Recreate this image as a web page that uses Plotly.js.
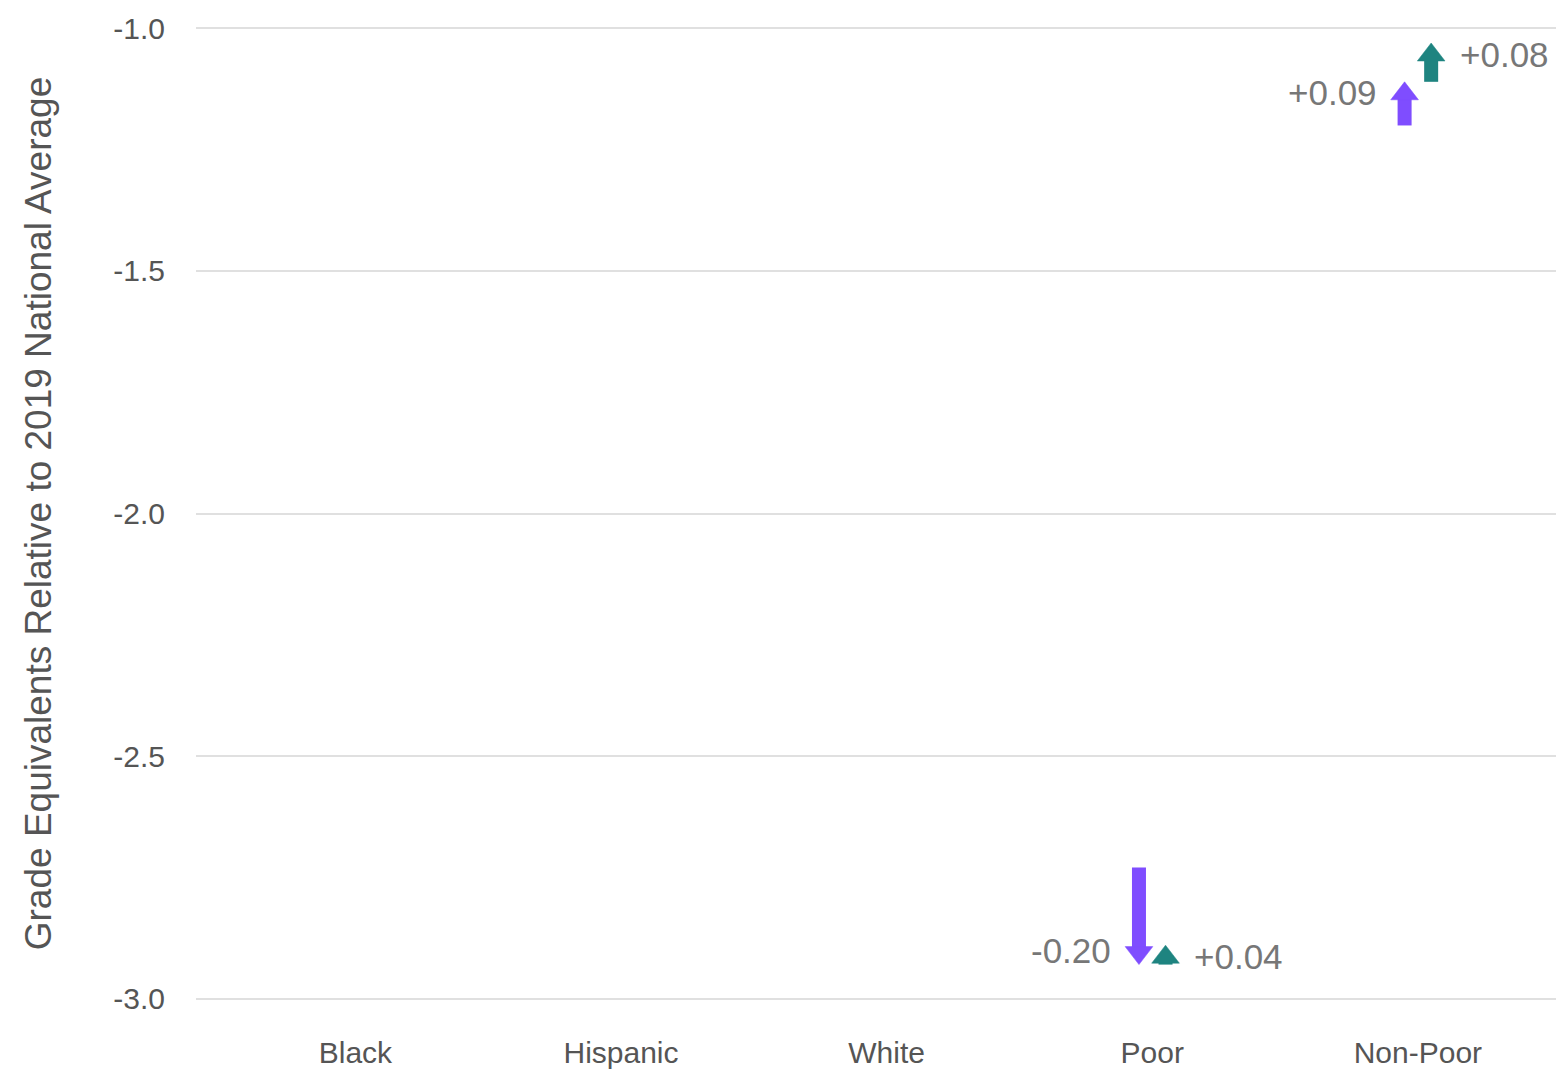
<!DOCTYPE html>
<html>
<head>
<meta charset="utf-8">
<script src="https://cdn.plot.ly/plotly-3.0.1.min.js"></script>
<style>
html,body{margin:0;padding:0;background:#ffffff;}
#chart{width:1559px;height:1074px;}
</style>
</head>
<body>
<div id="chart"></div>
<script>
// ---- data ----
const categories = ['Black', 'Hispanic', 'White', 'Poor', 'Non-Poor'];
const arrowCategories = ['Poor', 'Non-Poor'];
const firstStart = [-2.73, -1.20];
const firstEnd = [-2.93, -1.11];
const secondStart = [-2.93, -1.11];
const secondEnd = [-2.89, -1.03];
const firstLabels = ['-0.20', '+0.09'];
const secondLabels = ['+0.04', '+0.08'];
const yTickVals = [-3.0, -2.5, -2.0, -1.5, -1.0];
const yTickText = ['-3.0', '-2.5', '-2.0', '-1.5', '-1.0'];
const yTitle = 'Grade Equivalents Relative to 2019 National Average';

// ---- style ----
const purple = '#7F4DFF';
const teal = '#1E8480';
const headSize = 24;
const shaftWidth = 14;
const labelColor = '#777777';
const fontFamily = '"Liberation Sans", Arial, Helvetica, sans-serif';

const series = [
  {group: 'first', color: purple, start: firstStart, end: firstEnd, labels: firstLabels, side: 'left'},
  {group: 'second', color: teal, start: secondStart, end: secondEnd, labels: secondLabels, side: 'right'}
];

const traces = [];
const annotations = [];
series.forEach(s => {
  arrowCategories.forEach((cat, i) => {
    traces.push({
      type: 'scatter',
      mode: 'lines+markers',
      x: [cat, cat],
      y: [s.start[i], s.end[i]],
      offsetgroup: s.group,
      line: {color: s.color, width: shaftWidth, backoff: 17},
      marker: {
        symbol: 'triangle-up',
        size: [0, headSize],
        angleref: 'previous',
        standoff: headSize / 2,
        color: s.color,
        opacity: 1,
        line: {width: 0.5, color: s.color}
      },
      opacity: 1,
      cliponaxis: false,
      hoverinfo: 'skip',
      showlegend: false
    });
    const up = s.end[i] > s.start[i];
    annotations.push({
      x: cat,
      y: s.end[i],
      xref: 'x',
      yref: 'y',
      text: s.labels[i],
      showarrow: false,
      xanchor: s.side === 'left' ? 'right' : 'left',
      yanchor: 'middle',
      xshift: s.side === 'left' ? -39 : 40,
      yshift: up ? -11 : 14,
      font: {family: fontFamily, size: 35, color: labelColor}
    });
  });
});

const layout = {
  width: 1559,
  height: 1074,
  margin: {l: 196, r: 3, t: 27, b: 74},
  paper_bgcolor: '#ffffff',
  plot_bgcolor: '#ffffff',
  scattermode: 'group',
  scattergap: 0.8,
  showlegend: false,
  font: {family: fontFamily, color: '#555555'},
  xaxis: {
    type: 'category',
    categoryorder: 'array',
    categoryarray: categories,
    range: [-0.6, 4.52],
    showgrid: false,
    zeroline: false,
    showline: false,
    ticks: '',
    ticklabelstandoff: 32,
    tickfont: {family: fontFamily, size: 30, color: '#555555'},
    fixedrange: true
  },
  yaxis: {
    range: [-3.003, -0.997],
    tickmode: 'array',
    tickvals: yTickVals,
    ticktext: yTickText,
    showgrid: true,
    gridcolor: '#e0e0e0',
    gridwidth: 2,
    zeroline: false,
    showline: false,
    ticks: '',
    ticklabelstandoff: 30,
    tickfont: {family: fontFamily, size: 30, color: '#555555'},
    title: {text: yTitle, font: {family: fontFamily, size: 37, color: '#555555'}, standoff: 50},
    fixedrange: true
  },
  annotations: annotations
};

Plotly.newPlot('chart', traces, layout, {displayModeBar: false, staticPlot: true});
</script>
</body>
</html>
